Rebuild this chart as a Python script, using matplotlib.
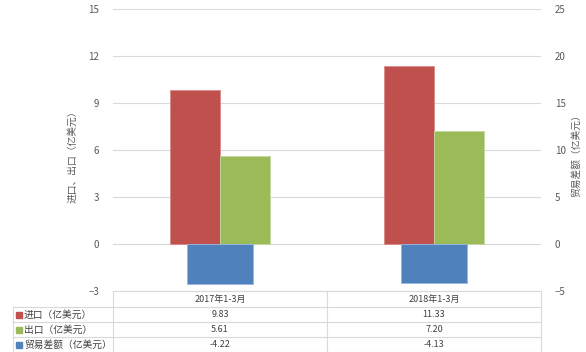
import matplotlib.pyplot as plt
from matplotlib.lines import Line2D
from matplotlib.patches import Rectangle
import numpy as np

plt.rcParams['font.family'] = ['Noto Sans CJK SC', 'DejaVu Sans']

categories = ["2017年1-3月", "2018年1-3月"]
series_names = ["进口（亿美元）", "出口（亿美元）", "贸易差额（亿美元）"]
imports = [9.83, 11.33]
exports = [5.61, 7.20]
balance = [-4.22, -4.13]
colors = ["#C0504D", "#9BBB59", "#4F81BD"]

W, H = 586, 352
fig = plt.figure(figsize=(W / 100, H / 100), dpi=100)

# plot area in pixels
x0, x1 = 113, 541
y_top, y_bot = 9, 291
ax = fig.add_axes([x0 / W, 1 - y_bot / H, (x1 - x0) / W, (y_bot - y_top) / H])
ax2 = ax.twinx()

x = np.arange(len(categories))
bw = 0.235
ax.bar(x - bw / 2, imports, bw, color=colors[0], edgecolor="#D88A88", linewidth=0.6, zorder=3)
ax.bar(x + bw / 2, exports, bw, color=colors[1], edgecolor="#C4D8A0", linewidth=0.6, zorder=3)
ax2.bar(x, balance, 0.31, color=colors[2], edgecolor="#9AB6DC", linewidth=0.6, zorder=3)

ax.set_xlim(-0.5, 1.5)
ax.set_ylim(-3, 15)
ax.set_yticks(np.arange(-3, 16, 3))
ax2.set_ylim(-5, 25)
ax2.set_yticks(np.arange(-5, 26, 5))
ax.set_xticks([])

ax.grid(axis="y", color="#D9D9D9", linewidth=0.8, zorder=0)
ax.set_axisbelow(True)
for a in (ax, ax2):
    for s in a.spines.values():
        s.set_visible(False)
    a.tick_params(axis="y", length=0, labelsize=7, colors="#595959")
ax.tick_params(axis="y", pad=10)
ax2.tick_params(axis="y", pad=10)

fig.text(72 / W, 1 - 154 / H, "进口、出口（亿美元）", rotation=90, fontsize=7,
         color="#595959", ha="center", va="center")
fig.text(576 / W, 1 - 153 / H, "贸易差额（亿美元）", rotation=90, fontsize=7,
         color="#595959", ha="center", va="center")

# data table below the chart
rows_y = [291, 307, 322, 337, 352]
col_x = [13, x0, 327, x1]
line_c = "#D9D9D9"


def hline(y, xa, xb):
    fig.add_artist(Line2D([xa / W, xb / W], [1 - y / H, 1 - y / H], color=line_c, lw=0.8))


def vline(xp, ya, yb):
    fig.add_artist(Line2D([xp / W, xp / W], [1 - ya / H, 1 - yb / H], color=line_c, lw=0.8))


hline(rows_y[0], x0, x1)
for y in rows_y[1:]:
    hline(y, col_x[0], x1)
vline(col_x[0], rows_y[1], rows_y[-1])
for xp in col_x[1:]:
    vline(xp, rows_y[0], rows_y[-1])

centers = [(col_x[i + 1] + col_x[i + 2]) / 2 for i in range(len(categories))]
hy = (rows_y[0] + rows_y[1]) / 2
for cx, cat in zip(centers, categories):
    fig.text(cx / W, 1 - hy / H, cat, fontsize=6.5, color="#404040", ha="center", va="center")

values = [imports, exports, balance]
for r, (name, vals, c) in enumerate(zip(series_names, values, colors)):
    ry = (rows_y[r + 1] + rows_y[r + 2]) / 2
    fig.add_artist(Rectangle((16 / W, 1 - (ry + 3) / H), 6 / W, 6 / H, color=c))
    fig.text(24 / W, 1 - ry / H, name, fontsize=7, color="#404040", ha="left", va="center")
    for cx, v in zip(centers, vals):
        fig.text(cx / W, 1 - ry / H, f"{v:.2f}", fontsize=6.5, color="#404040",
                 ha="center", va="center")

fig.savefig("out.png", dpi=100)
